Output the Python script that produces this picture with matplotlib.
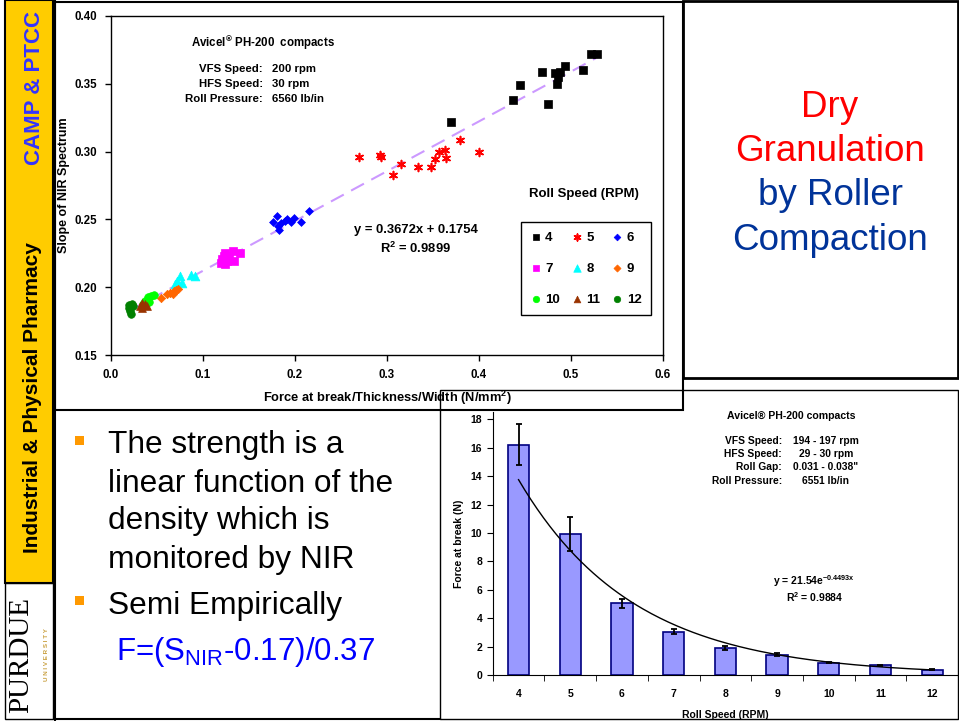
import numpy as np
import matplotlib
matplotlib.use("Agg")
import matplotlib.pyplot as plt
from matplotlib.patches import Rectangle
from matplotlib.ticker import FormatStrFormatter, FixedLocator

plt.rcParams['font.family'] = ['Liberation Sans', 'DejaVu Sans']
plt.rcParams['mathtext.fontset'] = 'custom'
plt.rcParams['mathtext.rm'] = 'Liberation Sans'
plt.rcParams['mathtext.bf'] = 'Liberation Sans:bold'

# --- scatter: slope of NIR spectrum vs force/thickness/width, by roll speed
force_4 = [0.370, 0.437, 0.445, 0.469, 0.475, 0.483, 0.486, 0.485, 0.488, 0.493, 0.513, 0.522, 0.528]
slope_4 = [0.322, 0.338, 0.349, 0.359, 0.335, 0.358, 0.355, 0.350, 0.359, 0.363, 0.360, 0.372, 0.372]
force_5 = [0.270, 0.292, 0.294, 0.307, 0.315, 0.334, 0.348, 0.352, 0.357, 0.363, 0.364, 0.379, 0.400]
slope_5 = [0.296, 0.2975, 0.296, 0.283, 0.291, 0.289, 0.289, 0.2946, 0.300, 0.301, 0.295, 0.3086, 0.300]
force_6 = [0.176, 0.180, 0.181, 0.183, 0.185, 0.189, 0.191, 0.196, 0.199, 0.206, 0.215]
slope_6 = [0.248, 0.2525, 0.245, 0.242, 0.247, 0.249, 0.250, 0.248, 0.251, 0.248, 0.2565]
force_7 = [0.120, 0.121, 0.123, 0.124, 0.124, 0.126, 0.128, 0.133, 0.134, 0.140]
slope_7 = [0.218, 0.2205, 0.223, 0.2255, 0.217, 0.2195, 0.223, 0.2265, 0.219, 0.225]
force_8 = [0.070, 0.072, 0.075, 0.077, 0.087, 0.091]
slope_8 = [0.202, 0.2045, 0.208, 0.203, 0.209, 0.208]
force_9 = [0.054, 0.061, 0.064, 0.067, 0.069, 0.071, 0.073]
slope_9 = [0.192, 0.195, 0.196, 0.195, 0.197, 0.198, 0.199]
force_10 = [0.035, 0.037, 0.040, 0.041, 0.044, 0.047]
slope_10 = [0.1875, 0.190, 0.1925, 0.189, 0.1935, 0.194]
force_11 = [0.032, 0.034, 0.034, 0.037, 0.039]
slope_11 = [0.186, 0.185, 0.1885, 0.1875, 0.1865]
force_12 = [0.020, 0.020, 0.021, 0.022, 0.023, 0.024]
slope_12 = [0.185, 0.187, 0.1825, 0.180, 0.1875, 0.186]
fit_slope, fit_icpt = 0.3672, 0.1754

# --- bars: force at break vs roll speed
roll_speed = [4, 5, 6, 7, 8, 9, 10, 11, 12]
force_break = [16.2, 9.9, 5.05, 3.07, 1.92, 1.45, 0.88, 0.70, 0.40]
force_err = [1.45, 1.2, 0.32, 0.17, 0.17, 0.10, 0.05, 0.05, 0.04]
exp_a, exp_b = 21.54, -0.4493

W, H = 959, 721
fig = plt.figure(figsize=(W / 100, H / 100), dpi=100)
fig.patch.set_facecolor('white')

# background axes in pixel coords, for the slide boxes and texts
bg = fig.add_axes([0, 0, 1, 1])
bg.set_xlim(0, W)
bg.set_ylim(H, 0)
bg.axis('off')

def box(x0, y0, x1, y1, lw=1.5, fc='none'):
    bg.add_patch(Rectangle((x0, y0), x1 - x0, y1 - y0, fill=(fc != 'none'),
                           facecolor=fc, edgecolor='black', lw=lw))

# left strip
box(5, 0, 53, 583, lw=1.5, fc='#FFCC00')
box(5, 583, 53, 719, lw=1.0)
bg.plot([55, 55], [0, 721], color='black', lw=1.5)
bg.text(35, 88, 'CAMP & PTCC', rotation=90, ha='center', va='center',
        fontsize=16, fontweight='bold', color='#3333FF')
bg.text(33, 398, 'Industrial & Physical Pharmacy', rotation=90, ha='center', va='center',
        fontsize=15, fontweight='bold', color='black')
bg.text(21, 655, 'PURDUE', rotation=90, ha='center', va='center',
        fontsize=21, family='Liberation Serif', color='black')
bg.text(46, 655, 'U N I V E R S I T Y', rotation=90, ha='center', va='center',
        fontsize=4.5, fontweight='bold', color='#C9A040')

# panel borders
box(683, 1, 958, 378, lw=2)
box(440, 390, 958, 719, lw=1.0)
box(55, 2, 683, 410, lw=1.5)
bg.plot([55, 440], [719, 719], color='black', lw=1.5)

# right title
for txt, yy, col in [('Dry', 117, '#FF0000'), ('Granulation', 161, '#FF0000'),
                     ('by Roller', 205, '#003399'), ('Compaction', 250, '#003399')]:
    bg.text(830, yy, txt, ha='center', va='baseline', fontsize=26.5, color=col)

# bullet text
for by in (436, 596):
    bg.add_patch(Rectangle((75, by), 9, 9, facecolor='#FF9900', edgecolor='none'))
for txt, yy in [('The strength is a', 453), ('linear function of the', 492),
                ('density which is', 529), ('monitored by NIR', 568),
                ('Semi Empirically', 614)]:
    bg.text(108, yy, txt, ha='left', va='baseline', fontsize=22.8, color='black')
bg.text(116, 660, r'F=(S$_{\mathregular{NIR}}$-0.17)/0.37', ha='left', va='baseline',
        fontsize=22.5, color='#0000FF')

# ---------------- scatter chart ----------------
L, R, T, B = 111, 663, 16, 355
ax = fig.add_axes([L / W, 1 - B / H, (R - L) / W, (B - T) / H])
ax.patch.set_alpha(0)

groups = [
    ('4', force_4, slope_4, 's', 'black', 30),
    ('5', force_5, slope_5, (6, 2, 0), 'red', 32),
    ('6', force_6, slope_6, 'D', '#0000FF', 16),
    ('7', force_7, slope_7, 's', '#FF00FF', 32),
    ('8', force_8, slope_8, '^', '#00FFFF', 40),
    ('9', force_9, slope_9, 'D', '#FF6600', 18),
    ('10', force_10, slope_10, 'o', '#00FF00', 30),
    ('11', force_11, slope_11, '^', '#993300', 32),
    ('12', force_12, slope_12, 'o', '#008000', 30),
]
handles = {}
for lab, xs, ys, mk, col, s in groups:
    if isinstance(mk, tuple):
        h = ax.scatter(xs, ys, marker=mk, s=s, color=col, linewidths=1.2, zorder=3, label=lab)
    else:
        h = ax.scatter(xs, ys, marker=mk, s=s, color=col, edgecolors=col, linewidths=0.5,
                       zorder=3, label=lab)
    handles[lab] = h

xfit = np.array([0.02, 0.53])
ax.plot(xfit, fit_slope * xfit + fit_icpt, color='#CC99FF', lw=1.5, dashes=(7, 4), zorder=2)

ax.set_xlim(0, 0.6)
ax.set_ylim(0.15, 0.40)
ax.set_xticks(np.arange(0, 0.61, 0.1))
ax.set_yticks(np.arange(0.15, 0.401, 0.05))
ax.xaxis.set_major_formatter(FormatStrFormatter('%.1f'))
ax.yaxis.set_major_formatter(FormatStrFormatter('%.2f'))
ax.tick_params(direction='out', length=4, width=1, labelsize=8.3, pad=6)
for lbl in ax.get_xticklabels() + ax.get_yticklabels():
    lbl.set_fontweight('bold')
for sp in ax.spines.values():
    sp.set_linewidth(1.0)
ax.set_xlabel(r'Force at break/Thickness/Width (N/mm$^{\mathregular{2}}$)', fontsize=9.3,
              fontweight='bold', labelpad=6)
ax.set_ylabel('Slope of NIR Spectrum', fontsize=9, fontweight='bold', labelpad=3.5)

order = ['4', '7', '10', '5', '8', '11', '6', '9', '12']
leg = ax.legend([handles[k] for k in order], order, ncol=3, loc='upper left',
                bbox_to_anchor=(521 / W, 1 - 222 / H), bbox_transform=fig.transFigure,
                borderaxespad=0, fancybox=False, edgecolor='black', framealpha=1,
                prop={'size': 9.5, 'weight': 'bold'}, handlelength=0.8, handletextpad=0.3,
                columnspacing=0.9, labelspacing=1.42, borderpad=0.73, markerscale=0.85)
leg.get_frame().set_linewidth(1.0)

bg.text(584, 194, 'Roll Speed (RPM)', ha='center', va='center', fontsize=9.5, fontweight='bold')
bg.text(263, 43, r'Avicel$^{\mathregular{®}}$ PH-200  compacts', ha='center', va='center',
        fontsize=8.3, fontweight='bold')
for lab, val, yy in [('VFS Speed:', '200 rpm', 69), ('HFS Speed:', '30 rpm', 84),
                     ('Roll Pressure:', '6560 lb/in', 99)]:
    bg.text(263, yy, lab, ha='right', va='center', fontsize=8.2, fontweight='bold')
    bg.text(272, yy, val, ha='left', va='center', fontsize=8.2, fontweight='bold')
bg.text(416, 230, 'y = 0.3672x + 0.1754', ha='center', va='center', fontsize=9.4,
        fontweight='bold')
bg.text(416, 248, r'R$^{\mathregular{2}}$ = 0.9899', ha='center', va='center', fontsize=9.4,
        fontweight='bold')

# ---------------- bar chart ----------------
L2, R2, T2, B2 = 492.7, 958, 412, 675.3
ax2 = fig.add_axes([L2 / W, 1 - B2 / H, (R2 - L2) / W, (B2 - T2) / H])
ax2.patch.set_alpha(0)
ax2.bar(roll_speed, force_break, width=0.41, color='#9999FF', edgecolor='#000080', lw=1.2,
        zorder=2)
ax2.errorbar(roll_speed, force_break, yerr=force_err, fmt='none', ecolor='black',
             elinewidth=1.3, capsize=2.5, capthick=1.3, zorder=3)
xs = np.linspace(4, 12, 200)
ax2.plot(xs, exp_a * np.exp(exp_b * (xs - 3)), color='black', lw=1.0, zorder=4)

ax2.set_xlim(3.5, 12.5)
ax2.set_ylim(0, 18.5)
ax2.set_yticks(np.arange(0, 19, 2))
ax2.set_xticks(roll_speed)
ax2.xaxis.set_minor_locator(FixedLocator(np.arange(3.5, 12.6, 1)))
ax2.tick_params(axis='x', which='major', length=0, pad=10)
ax2.tick_params(axis='x', which='minor', length=4, direction='out')
ax2.tick_params(axis='y', direction='out', length=4)
ax2.tick_params(labelsize=7.5)
for lbl in ax2.get_xticklabels() + ax2.get_yticklabels():
    lbl.set_fontweight('bold')
ax2.spines['top'].set_visible(False)
ax2.spines['right'].set_visible(False)
ax2.set_xlabel('Roll Speed (RPM)', fontsize=7.5, fontweight='bold', labelpad=8)
ax2.set_ylabel('Force at break (N)', fontsize=7.5, fontweight='bold', labelpad=4.5)

bg.text(791, 416, 'Avicel® PH-200 compacts', ha='center', va='center', fontsize=7.6,
        fontweight='bold')
for lab, val, yy in [('VFS Speed:', '194 - 197 rpm', 441), ('HFS Speed:', '29 - 30 rpm', 454),
                     ('Roll Gap:', '0.031 - 0.038"', 467), ('Roll Pressure:', '6551 lb/in', 481)]:
    bg.text(782, yy, lab, ha='right', va='center', fontsize=7.4, fontweight='bold')
    bg.text(826, yy, val, ha='center', va='center', fontsize=7.4, fontweight='bold')
bg.text(814, 581, r'y = 21.54e$^{\mathregular{-0.4493x}}$', ha='center', va='center',
        fontsize=7.5, fontweight='bold')
bg.text(815, 597, r'R$^{\mathregular{2}}$ = 0.9884', ha='center', va='center', fontsize=7.5,
        fontweight='bold')

fig.savefig('out.png', dpi=100)
